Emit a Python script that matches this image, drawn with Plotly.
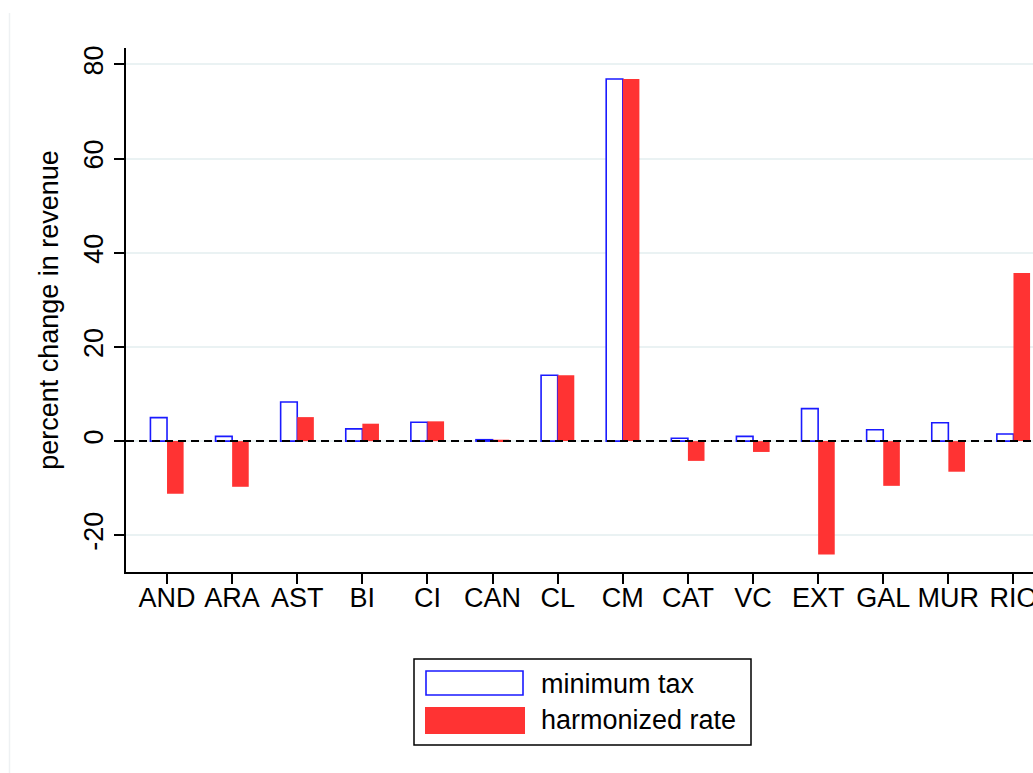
import plotly.graph_objects as go

regions = ["AND", "ARA", "AST", "BI", "CI", "CAN", "CL", "CM", "CAT", "VC", "EXT", "GAL", "MUR", "RIO"]
minimum_tax = [5.0, 1.0, 8.3, 2.6, 4.0, 0.3, 14.0, 76.9, 0.6, 1.0, 6.9, 2.4, 3.9, 1.5]
harmonized_rate = [-11.2, -9.7, 5.1, 3.7, 4.2, 0.3, 14.0, 76.9, -4.2, -2.3, -24.1, -9.5, -6.5, 35.7]
y_ticks = [-20, 0, 20, 40, 60, 80]

FONT = "Liberation Sans, Arial, Helvetica, sans-serif"
BLUE = "#1a1aff"
RED = "#ff3333"
FS = 27

fig = go.Figure()
fig.add_trace(go.Bar(x=regions, y=minimum_tax, name="minimum tax",
                     marker=dict(color="white", line=dict(color=BLUE, width=1.6)),
                     showlegend=False))
fig.add_trace(go.Bar(x=regions, y=harmonized_rate, name="harmonized rate",
                     marker=dict(color=RED, line=dict(width=0)),
                     showlegend=False))

fig.update_layout(
    width=1033, height=773,
    margin=dict(l=126, r=0, t=48, b=201, autoexpand=False),
    paper_bgcolor="white", plot_bgcolor="white",
    barmode="group", bargap=0.49, bargroupgap=0,
    font=dict(family=FONT, size=FS, color="black"),
    xaxis=dict(type="category", range=[-0.63, 13.30], showgrid=False, automargin=False,
               showline=True, linecolor="black", linewidth=1.5,
               ticks="outside", ticklen=10, tickwidth=1.5, tickcolor="black",
               tickfont=dict(size=FS), zeroline=False, ticklabelstandoff=-9),
    yaxis=dict(range=[-27.8, 83.5], tickvals=y_ticks, ticktext=[str(v) for v in y_ticks],
               tickangle=-90, showgrid=True, gridcolor="#EAF2F3", gridwidth=2, automargin=False,
               showline=True, linecolor="black", linewidth=1.5,
               ticks="outside", ticklen=10, tickwidth=1.5, tickcolor="black",
               tickfont=dict(size=FS), zeroline=False,
               title=dict(text="percent change in revenue", font=dict(size=FS), standoff=13)),
)

# zero reference line
fig.add_shape(type="line", xref="paper", yref="y", x0=0, x1=1, y0=0, y1=0,
              line=dict(color="black", width=2, dash="8px,5px"), layer="above")

def px_x(px):
    return (px - 126) / 907

def px_y(py):
    return (572 - py) / 524

# faint outer graph-region edge
fig.add_shape(type="line", xref="paper", yref="paper", x0=px_x(9.5), x1=px_x(9.5),
              y0=px_y(773), y1=px_y(13),
              line=dict(color="#EEF1F3", width=1.5), layer="below")

# custom legend (Stata style with wide swatches)
fig.add_shape(type="rect", xref="paper", yref="paper",
              x0=px_x(414), x1=px_x(751), y0=px_y(745), y1=px_y(659),
              line=dict(color="black", width=1.5), fillcolor="white")
fig.add_shape(type="rect", xref="paper", yref="paper",
              x0=px_x(426), x1=px_x(523), y0=px_y(695), y1=px_y(671),
              line=dict(color=BLUE, width=1.6), fillcolor="white")
fig.add_shape(type="rect", xref="paper", yref="paper",
              x0=px_x(425), x1=px_x(525), y0=px_y(734), y1=px_y(707),
              line=dict(width=0), fillcolor=RED)
fig.add_annotation(xref="paper", yref="paper", x=px_x(539), y=px_y(684),
                   text="minimum tax", showarrow=False, xanchor="left", yanchor="middle",
                   font=dict(size=FS))
fig.add_annotation(xref="paper", yref="paper", x=px_x(539), y=px_y(720),
                   text="harmonized rate", showarrow=False, xanchor="left", yanchor="middle",
                   font=dict(size=FS))

fig.write_html("out.html", config={"displayModeBar": False},
               post_script="document.body.style.margin='0';")
